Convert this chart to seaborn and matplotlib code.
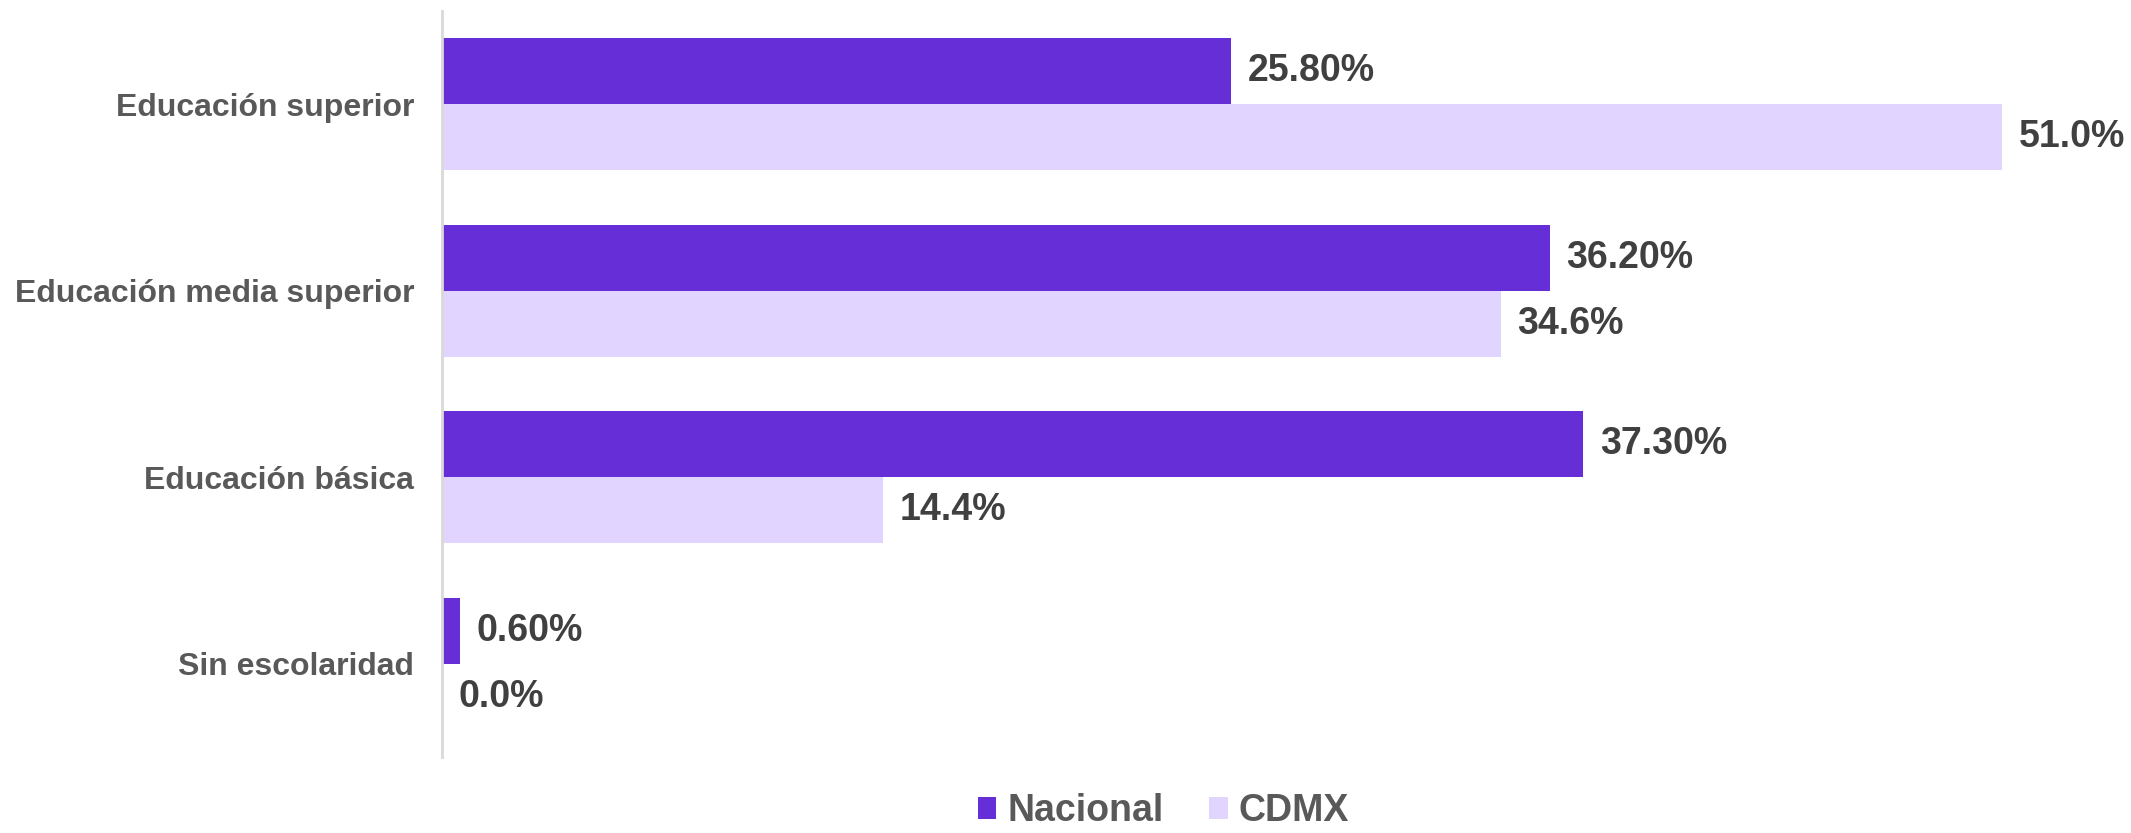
import pandas as pd
import numpy as np
import matplotlib.pyplot as plt
import seaborn as sns
from matplotlib.patches import Patch

categories = ['Educación superior', 'Educación media superior', 'Educación básica', 'Sin escolaridad']
nacional = [25.8, 36.2, 37.3, 0.6]
cdmx = [51.0, 34.6, 14.4, 0.0]
nacional_labels = ['25.80%', '36.20%', '37.30%', '0.60%']
cdmx_labels = ['51.0%', '34.6%', '14.4%', '0.0%']
series = ['Nacional', 'CDMX']
colors = {'Nacional': '#662ED6', 'CDMX': '#E1D4FE'}

df = pd.DataFrame({
    'categoria': categories * 2,
    'valor': nacional + cdmx,
    'serie': ['Nacional'] * 4 + ['CDMX'] * 4,
})

sns.set_style('white')
plt.rcParams['font.family'] = ['Liberation Sans', 'DejaVu Sans']

fig = plt.figure(figsize=(21.31, 8.33), dpi=100)
ax = fig.add_axes([0.2074, 0.0912, 0.7926, 0.8956])

sns.barplot(data=df, y='categoria', x='valor', hue='serie', order=categories,
            hue_order=series, palette=colors, orient='h', width=0.706,
            saturation=1, legend=False, linewidth=0, ax=ax)

for cont, labs in zip(ax.containers, [nacional_labels, cdmx_labels]):
    ax.bar_label(cont, labels=labs, padding=12, fontsize=27, fontweight='bold',
                 color='#404040')

ax.set_xlim(0, 55.2)
ax.set_ylim(3.5, -0.5)
ax.set_xlabel('')
ax.set_ylabel('')
ax.set_xticks([])
ax.tick_params(axis='y', length=0, pad=20, labelsize=23, labelcolor='#595959')
for t in ax.get_yticklabels():
    t.set_fontweight('bold')
for side in ['top', 'right', 'bottom']:
    ax.spines[side].set_visible(False)
ax.spines['left'].set_color('#D9D9D9')
ax.spines['left'].set_linewidth(2)

handles = [Patch(facecolor=colors[s], edgecolor='none', label=s) for s in series]
fig.legend(handles=handles, loc='center', bbox_to_anchor=(0.546, 0.026), ncol=2,
           frameon=False, handlelength=0.5, handleheight=0.5, handletextpad=0.3,
           columnspacing=1.2, prop={'size': 27, 'weight': 'bold'},
           labelcolor='#595959', borderpad=0.1)

fig.savefig('out.png', dpi=100)
